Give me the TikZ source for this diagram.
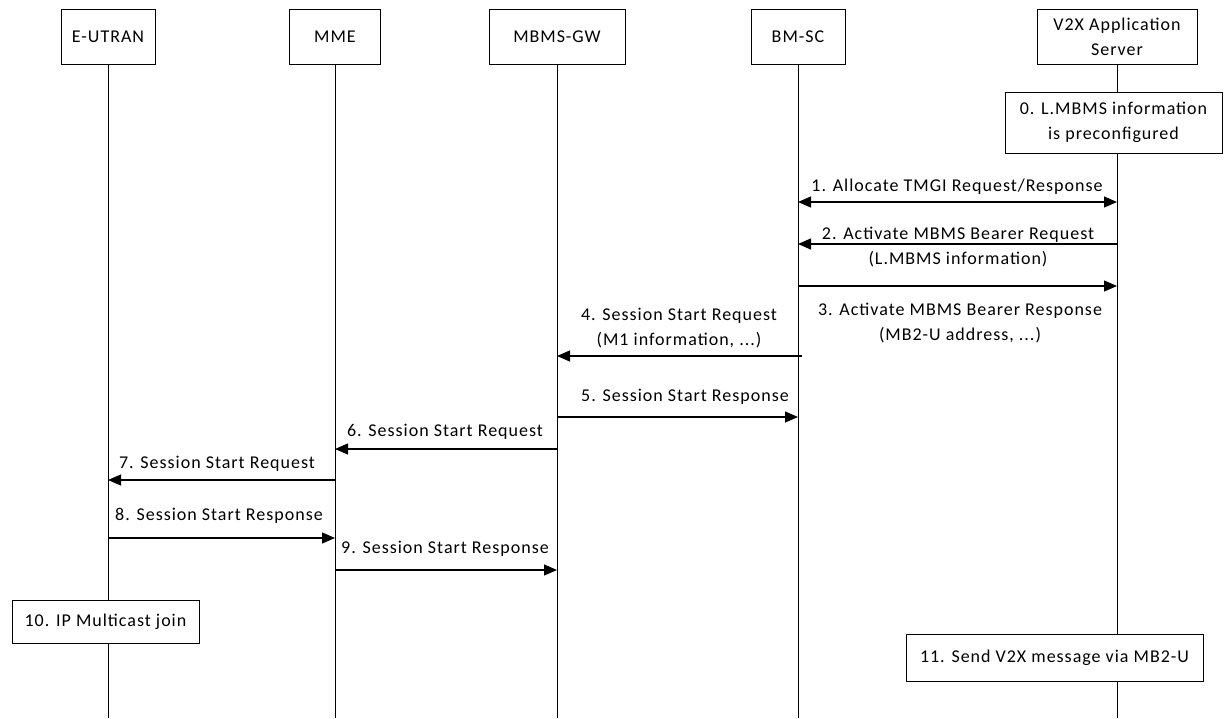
\documentclass[tikz,border=0pt]{standalone}
\usepackage{fontspec}
\setmainfont{Carlito}[LetterSpace=5.5]
\usepackage{tikz}
\usetikzlibrary{positioning, arrows.meta, calc}

\begin{document}
\begin{tikzpicture}[x=1pt, y=-1pt, font=\fontsize{18}{25}\selectfont]
		\tikzstyle{entity}=[draw=black, line width=0.9pt, minimum height=55pt, fill=white, align=center, inner sep=2pt]
		\tikzstyle{stepbox}=[draw=black, line width=0.9pt, fill=white, align=center, inner sep=2pt]
		\tikzstyle{lbl}=[anchor=base, inner sep=0pt, align=center]
		\tikzstyle{life}=[line width=1pt]
		\tikzstyle{msg}=[line width=1.2pt, -{Triangle[length=13pt,width=11pt]}]
		
		\useasboundingbox (0,0) rectangle (1224,718);
		
		%% entities
		\node[entity, minimum width=94pt] (EU) at (108,36.5) {E-UTRAN};
		\node[entity, minimum width=91pt] (MME) at (335,36.5) {MME};
		\node[entity, minimum width=136pt] (GW) at (557,36.5) {MBMS-GW};
		\node[entity, minimum width=94pt] (BM) at (798,36.5) {BM-SC};
		\node[entity, minimum width=160pt] (AS) at (1117,36.5) {V2X Application\\Server};
		
		\draw[life] (EU.south) -- (EU |- 0,718);
		\draw[life] (MME.south) -- (MME |- 0,718);
		\draw[life] (GW.south) -- (GW |- 0,718);
		\draw[life] (BM.south) -- (BM |- 0,718);
		\draw[life] (AS.south) -- (AS |- 0,718);
		
		%% steps
		\node[stepbox, minimum width=217pt, minimum height=61pt] (S0) at (1113.5,122.5) {0. L.MBMS information\\is preconfigured};
		\node[stepbox, minimum width=187pt, minimum height=43pt] (S10) at (105.5,621.5) {10. IP Multicast join};
		\node[stepbox, minimum width=297pt, minimum height=47pt] (S11) at (1054.5,657.5) {11. Send V2X message via MB2-U};
		
		%% messages (multi-line labels sit on the baseline of their last line)
		\draw[msg, {Triangle[length=13pt,width=11pt]}-{Triangle[length=13pt,width=11pt]}] (BM |- 0,202) -- (AS |- 0,202);
		\node[lbl] (L1) at (957,191) {1. Allocate TMGI Request/Response};
		
		\draw[msg] (AS |- 0,244) -- (BM |- 0,244);
		\node[lbl] (L2) at (958,264) {2. Activate MBMS Bearer Request\\(L.MBMS information)};
		
		\draw[msg] (BM |- 0,286) -- (AS |- 0,286);
		\node[lbl] (L3) at (960,340) {3. Activate MBMS Bearer Response\\(MB2-U address, ...)};
		
		\draw[msg] ($(BM |- 0,356)+(4,0)$) -- (GW |- 0,356);
		\node[lbl] (L4) at (679,345) {4. Session Start Request\\(M1 information, ...)};
		
		\draw[msg] (GW |- 0,417) -- (BM |- 0,417);
		\node[lbl] (L5) at (685,401) {5. Session Start Response};
		
		\draw[msg] (GW |- 0,449) -- (MME |- 0,449);
		\node[lbl] (L6) at (445,436) {6. Session Start Request};
		
		\draw[msg] (MME |- 0,480) -- (EU |- 0,480);
		\node[lbl] (L7) at (217,468) {7. Session Start Request};
		
		\draw[msg] (EU |- 0,538) -- (MME |- 0,538);
		\node[lbl] (L8) at (219,520) {8. Session Start Response};
		
		\draw[msg] (MME |- 0,570) -- (GW |- 0,570);
		\node[lbl] (L9) at (445,553) {9. Session Start Response};
		\end{tikzpicture}
\end{document}
